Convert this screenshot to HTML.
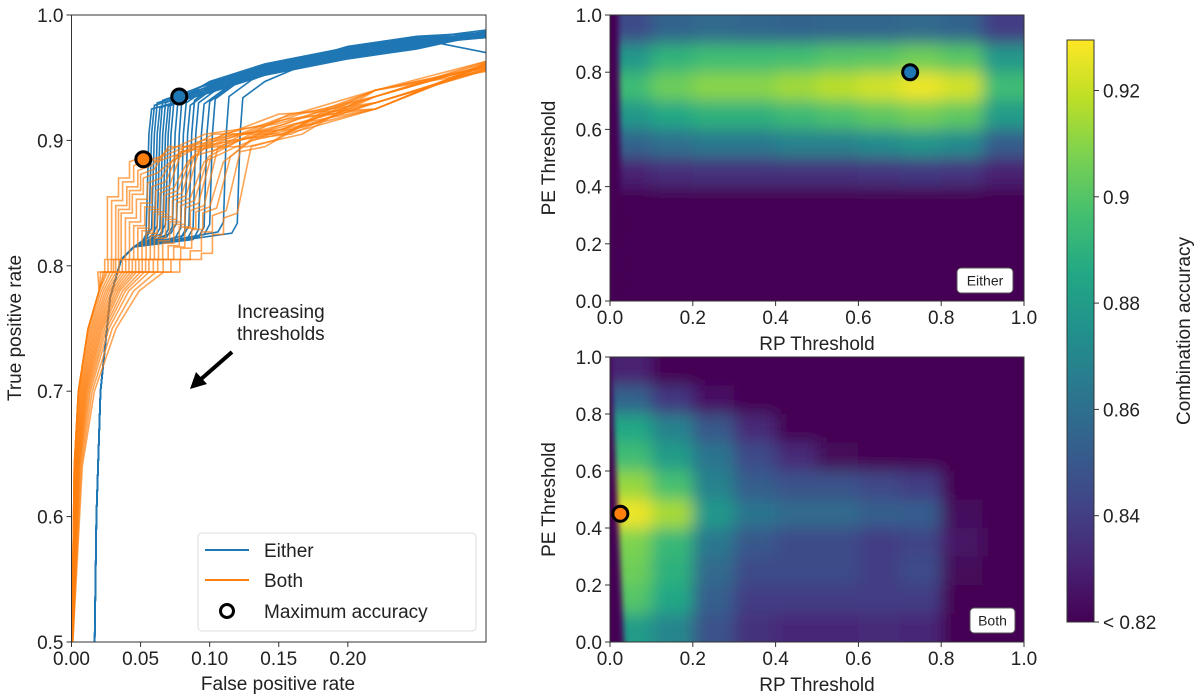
<!DOCTYPE html>
<html><head><meta charset="utf-8"><style>
body{margin:0;background:#fff;}
svg{display:block;font-family:"Liberation Sans","DejaVu Sans",sans-serif;}
</style></head><body>
<svg id="fig" width="1200" height="700" viewBox="0 0 1200 700" xmlns="http://www.w3.org/2000/svg">
<defs>
<clipPath id="clipRoc"><rect x="71.5" y="15" width="414.5" height="627"/></clipPath>
<clipPath id="clipTop"><rect x="610" y="15" width="414" height="286"/></clipPath>
<clipPath id="clipBot"><rect x="610" y="357" width="414" height="285"/></clipPath>
<filter id="blur" x="-20%" y="-20%" width="140%" height="140%"><feGaussianBlur stdDeviation="8"/></filter>
<filter id="blur2" x="-50%" y="-20%" width="200%" height="140%"><feGaussianBlur stdDeviation="3"/></filter>
<linearGradient id="cbGrad" x1="0" y1="1" x2="0" y2="0">
<stop offset="0" stop-color="#440154"/><stop offset="0.1" stop-color="#482475"/><stop offset="0.2" stop-color="#414487"/><stop offset="0.3" stop-color="#355f8d"/><stop offset="0.4" stop-color="#2a788e"/><stop offset="0.5" stop-color="#21918c"/><stop offset="0.6" stop-color="#22a884"/><stop offset="0.7" stop-color="#44bf70"/><stop offset="0.8" stop-color="#7ad151"/><stop offset="0.9" stop-color="#bddf26"/><stop offset="1" stop-color="#fde725"/>
</linearGradient>
</defs>
<g id="roc"></g>
<g id="hmTop"></g>
<g id="hmBot"></g>
<g id="cbar"></g>
</svg>
<script>
// ---------- ROC data ----------
const blueJumps = [0.054,0.056,0.058,0.060,0.062,0.064,0.066,0.068,0.070,0.073,0.076,0.079,0.082,0.085,0.088,0.092,0.096,0.100,0.110,0.120];
const blueTops  = [0.925,0.928,0.930,0.926,0.932,0.930,0.927,0.933,0.929,0.931,0.934,0.930,0.928,0.932,0.930,0.929,0.931,0.933,0.935,0.934];
const blueEnds  = [0.985,0.983,0.987,0.984,0.986,0.982,0.985,0.988,0.984,0.986,0.983,0.985,0.987,0.984,0.986,0.982,0.985,0.970,0.986,0.984];
const orangeShift = [-0.010,-0.007,-0.004,-0.002,0.000,0.003,0.006,0.009,0.012,0.015,0.018,0.021,0.024,0.027,0.030,0.034,0.038,0.043,0.050,0.058];
const orangePlateau = [0.855,0.852,0.848,0.845,0.842,0.838,0.835,0.832,0.830,0.828,0.826,0.824,0.822,0.820,0.818,0.816,0.815,0.814,0.812,0.810];
const orangeEnds = [0.960,0.958,0.962,0.955,0.960,0.957,0.963,0.958,0.961,0.956,0.960,0.959,0.962,0.957,0.960,0.958,0.961,0.956,0.960,0.963];
const maxBlue = [0.078, 0.935];
const maxOrange = [0.052, 0.885];
const rocXTicks = [0.00,0.05,0.10,0.15,0.20];
const rocXTickLabels = ["0.00","0.05","0.10","0.15","0.20"];
const rocYTicks = [0.5,0.6,0.7,0.8,0.9,1.0];
const rocYTickLabels = ["0.5","0.6","0.7","0.8","0.9","1.0"];

// ---------- Heatmap data (rows PE 0.95 -> 0.05, cols RP 0.05 -> 0.95) ----------
const eitherGrid = [
 [0.845,0.855,0.858,0.856,0.855,0.856,0.856,0.858,0.855,0.840],
 [0.878,0.891,0.895,0.895,0.896,0.900,0.901,0.905,0.901,0.878],
 [0.895,0.905,0.910,0.910,0.914,0.918,0.922,0.927,0.922,0.895],
 [0.878,0.885,0.890,0.890,0.894,0.898,0.902,0.906,0.902,0.880],
 [0.855,0.860,0.864,0.864,0.868,0.868,0.872,0.876,0.872,0.852],
 [0.830,0.834,0.835,0.835,0.835,0.835,0.837,0.838,0.837,0.830],
 [0.820,0.820,0.820,0.820,0.820,0.820,0.820,0.820,0.820,0.820],
 [0.820,0.820,0.820,0.820,0.820,0.820,0.820,0.820,0.820,0.820],
 [0.820,0.820,0.820,0.820,0.820,0.820,0.820,0.820,0.820,0.820],
 [0.820,0.820,0.820,0.820,0.820,0.820,0.820,0.820,0.820,0.820]
];
const bothGrid = [
 [0.830,0.820,0.820,0.820,0.820,0.820,0.820,0.820,0.820,0.820],
 [0.855,0.838,0.825,0.820,0.820,0.820,0.820,0.820,0.820,0.820],
 [0.885,0.868,0.850,0.833,0.820,0.820,0.820,0.820,0.820,0.820],
 [0.895,0.880,0.862,0.845,0.833,0.822,0.820,0.820,0.820,0.820],
 [0.912,0.897,0.868,0.852,0.848,0.848,0.844,0.840,0.820,0.820],
 [0.927,0.915,0.878,0.862,0.858,0.858,0.853,0.852,0.823,0.820],
 [0.908,0.893,0.864,0.850,0.845,0.845,0.840,0.842,0.826,0.820],
 [0.905,0.890,0.858,0.845,0.845,0.845,0.840,0.845,0.822,0.820],
 [0.900,0.885,0.853,0.840,0.840,0.840,0.840,0.840,0.820,0.820],
 [0.880,0.870,0.848,0.835,0.832,0.832,0.833,0.832,0.820,0.820]
];
const eitherMax = [0.725, 0.80];
const bothMax = [0.025, 0.45];
const hmTicks = [0.0,0.2,0.4,0.6,0.8,1.0];
const hmTickLabels = ["0.0","0.2","0.4","0.6","0.8","1.0"];
const cbTicks = [0.84,0.86,0.88,0.90,0.92];
const cbTickLabels = ["0.84","0.86","0.88","0.9","0.92"];
const cbMin = 0.82, cbMax = 0.9295;

const NS = "http://www.w3.org/2000/svg";
function mk(parent, tag, attrs, text){
  const e = document.createElementNS(NS, tag);
  for (const k in attrs) e.setAttribute(k, attrs[k]);
  if (text !== undefined) e.textContent = text;
  parent.appendChild(e);
  return e;
}
const VIR = ["#440154","#482475","#414487","#355f8d","#2a788e","#21918c","#22a884","#44bf70","#7ad151","#bddf26","#fde725"];
function hex(c){return [parseInt(c.slice(1,3),16),parseInt(c.slice(3,5),16),parseInt(c.slice(5,7),16)];}
function viridis(v){
  let t = (v-cbMin)/(cbMax-cbMin); t = Math.max(0,Math.min(1,t));
  const p = t*(VIR.length-1), i = Math.min(Math.floor(p), VIR.length-2), f = p-i;
  const a = hex(VIR[i]), b = hex(VIR[i+1]);
  return "rgb("+a.map((x,k)=>Math.round(x+(b[k]-x)*f)).join(",")+")";
}

// ---------- ROC ----------
const roc = document.getElementById("roc");
const RX0=71.5, RX1=486, RY0=642, RY1=15;
const rx = v => RX0 + v/0.3*(RX1-RX0);
const ry = v => RY0 - (v-0.5)/0.5*(RY0-RY1);
mk(roc,"rect",{x:RX0,y:RY1,width:RX1-RX0,height:RY0-RY1,fill:"#fff"});
const lines = mk(roc,"g",{"clip-path":"url(#clipRoc)"});
function pathOf(pts){return pts.map((p,i)=>(i?"L":"M")+rx(p[0]).toFixed(1)+","+ry(p[1]).toFixed(1)).join("");}
blueJumps.forEach((j,i)=>{
  const t = blueTops[i], e = blueEnds[i];
  const d = (t-0.93);
  const nx = Math.max(j+0.02, 0.1);
  const pts = [[0.0165,0.48],[0.018,0.6],[0.021,0.7],[0.028,0.775],[0.036,0.805],[0.045,0.815],[j-0.004,0.822+d],[j,0.83+d],[j+0.002,0.905],[j+0.004,t],[nx,Math.max(t,0.943)+d],[Math.max(nx+0.03,0.14),0.957+d],[0.2,0.970+d],[0.25,0.978+d],[0.3,e]];
  const p = mk(lines,"path",{d:pathOf(pts),fill:"none",stroke:"#1f77b4","stroke-width":1.6});
  
  
});
orangeShift.forEach((a,i)=>{
  const b = orangePlateau[i], e = orangeEnds[i];
  const s = Math.max(a,0);
  const pts = [[0.0,0.48],[0.002+s*0.1,0.64],[0.005+s*0.2,0.70],[0.012+s*0.35,0.75],[0.02+s*0.5,0.78],[0.026+a*0.7,0.795],[0.032+a*0.8,0.795],[0.032+a*0.8,0.805],[0.036+a,0.805],[0.036+a,b],[0.044+a,b],[0.044+a,b+0.015],[0.052+a,b+0.015],[0.052+a,b+0.028],[0.062+a,b+0.032],[0.072+a,0.883+(i%4)*0.004],[0.1+a*0.8,0.895+(i%3)*0.005],[0.15+a*0.5,0.905+(i%5)*0.004],[0.22,0.925+(i%4)*0.005],[0.3,e]];
  const p = mk(lines,"path",{d:pathOf(pts),fill:"none",stroke:"#ff7f0e","stroke-width":1.6,"stroke-opacity":0.7});
  
  
});
mk(roc,"rect",{x:RX0,y:RY1,width:RX1-RX0,height:RY0-RY1,fill:"none",stroke:"#333","stroke-width":1});
const m1 = mk(roc,"circle",{cx:rx(maxBlue[0]),cy:ry(maxBlue[1]),r:7.5,fill:"#1f77b4",stroke:"#000","stroke-width":3});
 
const m2 = mk(roc,"circle",{cx:rx(maxOrange[0]),cy:ry(maxOrange[1]),r:7.5,fill:"#ff7f0e",stroke:"#000","stroke-width":3});
 
rocXTicks.forEach((v,i)=>{
  mk(roc,"line",{x1:rx(v),x2:rx(v),y1:RY0,y2:RY0+5,stroke:"#333"});
  const t = mk(roc,"text",{x:rx(v),y:RY0+23,"font-size":19,"text-anchor":"middle",fill:"#222"},rocXTickLabels[i]);
   
});
rocYTicks.forEach((v,i)=>{
  mk(roc,"line",{x1:RX0-5,x2:RX0,y1:ry(v),y2:ry(v),stroke:"#333"});
  const t = mk(roc,"text",{x:RX0-8,y:ry(v)+7,"font-size":19,"text-anchor":"end",fill:"#222"},rocYTickLabels[i]);
   
});
</script>
<script>
(function(){
const roc = document.getElementById("roc");
let t = mk(roc,"text",{x:278,y:690,"font-size":19,"text-anchor":"middle",fill:"#222"},"False positive rate");
 
t = mk(roc,"text",{x:0,y:0,"font-size":19,"text-anchor":"middle",fill:"#222",transform:"translate(21,328) rotate(-90)"},"True positive rate");
 
t = mk(roc,"text",{x:237,y:318,"font-size":19,fill:"#222"},"Increasing");
 
mk(roc,"text",{x:237,y:340,"font-size":19,fill:"#222"},"thresholds");
t = mk(roc,"line",{x1:232,y1:352,x2:200,y2:380,stroke:"#000","stroke-width":4});
 
mk(roc,"polygon",{points:"190,389 196,372 207,384",fill:"#000"});
const lg = mk(roc,"g",{});
 
mk(lg,"rect",{x:198,y:533,width:278,height:98,rx:4,fill:"#fff",stroke:"#ddd"});
mk(lg,"line",{x1:205,x2:249,y1:550,y2:550,stroke:"#1f77b4","stroke-width":2});
mk(lg,"text",{x:264,y:557,"font-size":19,fill:"#222"},"Either");
mk(lg,"line",{x1:205,x2:249,y1:580,y2:580,stroke:"#ff7f0e","stroke-width":2});
mk(lg,"text",{x:264,y:587,"font-size":19,fill:"#222"},"Both");
mk(lg,"circle",{cx:227,cy:611,r:6.5,fill:"none",stroke:"#000","stroke-width":3});
mk(lg,"text",{x:264,y:618,"font-size":19,fill:"#222"},"Maximum accuracy");
})();
</script>
<script>
(function(){
function drawHeat(gid, grid, X0, Y0, W, H, clip, maxPt, maxColor, label, lbox, nameKey, edgeTop, edgeBot){
  const g = document.getElementById(gid);
  const sx = v => X0 + v*W, sy = v => Y0 + H - v*H;
  mk(g,"rect",{x:X0,y:Y0,width:W,height:H,fill:"#440154"});
  const cg = mk(g,"g",{"clip-path":"url(#"+clip+")"});
  const bg = mk(cg,"g",{filter:"url(#blur)"});
  const nr = grid.length, nc = grid[0].length;
  const cw = W/nc, ch = H/nr;
  grid.forEach((row,r)=>row.forEach((v,c)=>{
    let x = X0 + c*cw, y = Y0 + r*ch, w = cw+0.6, h = ch+0.6;
    if (c===0){x-=30; w+=30;} if (c===nc-1){w+=30;}
    if (r===0){y-=30; h+=30;} if (r===nr-1){h+=30;}
    const cell = mk(bg,"rect",{x:x,y:y,width:w,height:h,fill:viridis(v)});
    
    
  }));
  const strip = mk(cg,"polygon",{points:(X0-10)+","+sy(edgeTop[1])+" "+sx(edgeTop[0])+","+sy(edgeTop[1])+" "+sx(edgeBot[0])+","+sy(edgeBot[1])+" "+(X0-10)+","+sy(edgeBot[1]),fill:"#440154",filter:"url(#blur2)"});
   
  mk(g,"rect",{x:X0,y:Y0,width:W,height:H,fill:"none",stroke:"#333","stroke-width":1});
  hmTicks.forEach((v,i)=>{
    mk(g,"line",{x1:sx(v),x2:sx(v),y1:Y0+H,y2:Y0+H+5,stroke:"#333"});
    const t = mk(g,"text",{x:sx(v),y:Y0+H+23,"font-size":19,"text-anchor":"middle",fill:"#222"},hmTickLabels[i]);
     
    mk(g,"line",{x1:X0-5,x2:X0,y1:sy(v),y2:sy(v),stroke:"#333"});
    const u = mk(g,"text",{x:X0-8,y:sy(v)+7,"font-size":19,"text-anchor":"end",fill:"#222"},hmTickLabels[i]);
     
  });
  let t = mk(g,"text",{x:X0+W/2,y:Y0+H+49,"font-size":19,"text-anchor":"middle",fill:"#222"},"RP Threshold");
   
  t = mk(g,"text",{x:0,y:0,"font-size":19,"text-anchor":"middle",fill:"#222",transform:"translate("+(X0-55)+","+(Y0+H/2)+") rotate(-90)"},"PE Threshold");
   
  const m = mk(g,"circle",{cx:sx(maxPt[0]),cy:sy(maxPt[1]),r:7.5,fill:maxColor,stroke:"#000","stroke-width":3});
   
  const b = mk(g,"rect",{x:lbox[0],y:lbox[1],width:lbox[2],height:lbox[3],rx:4,fill:"#fff",stroke:"#555"});
   
  mk(g,"text",{x:lbox[0]+lbox[2]/2,y:lbox[1]+lbox[3]/2+5,"font-size":14,"text-anchor":"middle",fill:"#222"},label);
}
drawHeat("hmTop", eitherGrid, 610, 15, 414, 286, "clipTop", eitherMax, "#1f77b4", "Either", [957,268,56,25], "either", [0.02,1.05], [0.03,-0.05]);
drawHeat("hmBot", bothGrid, 610, 357, 414, 285, "clipBot", bothMax, "#ff7f0e", "Both", [970,608,45,25], "both", [0.0,1.05], [0.035,-0.05]);

const cb = document.getElementById("cbar");
const CX=1067, CW=27, CT=40, CB=622;
const cy = v => CB - (v-cbMin)/(cbMax-cbMin)*(CB-CT);
mk(cb,"rect",{x:CX,y:CT,width:CW,height:CB-CT,fill:"url(#cbGrad)",stroke:"#333","stroke-width":1});
cbTicks.forEach((v,i)=>{
  mk(cb,"line",{x1:CX+CW,x2:CX+CW+5,y1:cy(v),y2:cy(v),stroke:"#333"});
  const t = mk(cb,"text",{x:CX+CW+9,y:cy(v)+7,"font-size":19,fill:"#222"},cbTickLabels[i]);
   
});
mk(cb,"line",{x1:CX+CW,x2:CX+CW+5,y1:CB,y2:CB,stroke:"#333"});
let t = mk(cb,"text",{x:CX+CW+9,y:CB+7,"font-size":19,fill:"#222"},"< 0.82");
 
t = mk(cb,"text",{x:0,y:0,"font-size":19,"text-anchor":"middle",fill:"#222",transform:"translate(1190,331) rotate(-90)"},"Combination accuracy");
 
})();
</script>
</body></html>
